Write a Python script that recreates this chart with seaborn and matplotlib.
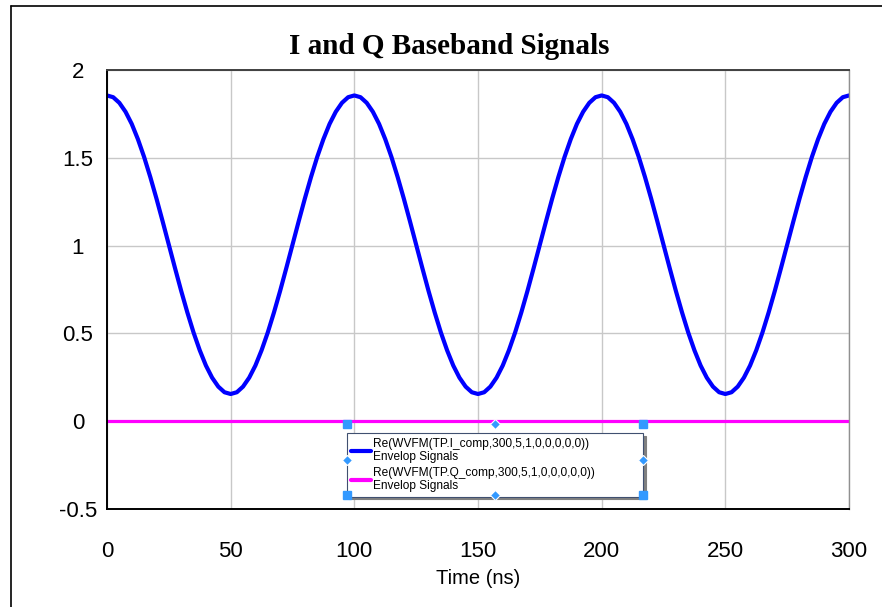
import numpy as np
import pandas as pd
import matplotlib
matplotlib.use("Agg")
import matplotlib.pyplot as plt
from matplotlib.lines import Line2D
import seaborn as sns

# time axis (ns), 0..300 ns
time_ns = [0, 2.5, 5, 7.5, 10, 12.5, 15, 17.5, 20, 22.5, 25, 27.5, 30, 32.5, 35, 37.5, 40, 42.5, 45, 47.5,
           50, 52.5, 55, 57.5, 60, 62.5, 65, 67.5, 70, 72.5, 75, 77.5, 80, 82.5, 85, 87.5, 90, 92.5, 95, 97.5,
           100, 102.5, 105, 107.5, 110, 112.5, 115, 117.5, 120, 122.5, 125, 127.5, 130, 132.5, 135, 137.5, 140, 142.5, 145, 147.5,
           150, 152.5, 155, 157.5, 160, 162.5, 165, 167.5, 170, 172.5, 175, 177.5, 180, 182.5, 185, 187.5, 190, 192.5, 195, 197.5,
           200, 202.5, 205, 207.5, 210, 212.5, 215, 217.5, 220, 222.5, 225, 227.5, 230, 232.5, 235, 237.5, 240, 242.5, 245, 247.5,
           250, 252.5, 255, 257.5, 260, 262.5, 265, 267.5, 270, 272.5, 275, 277.5, 280, 282.5, 285, 287.5, 290, 292.5, 295, 297.5,
           300]
# I channel
i_values = [1.855, 1.845, 1.813, 1.762, 1.693, 1.606, 1.505, 1.391, 1.268, 1.138,
            1.005, 0.872, 0.742, 0.619, 0.505, 0.404, 0.317, 0.248, 0.197, 0.165,
            0.155, 0.165, 0.197, 0.248, 0.317, 0.404, 0.505, 0.619, 0.742, 0.872,
            1.005, 1.138, 1.268, 1.391, 1.505, 1.606, 1.693, 1.762, 1.813, 1.845,
            1.855, 1.845, 1.813, 1.762, 1.693, 1.606, 1.505, 1.391, 1.268, 1.138,
            1.005, 0.872, 0.742, 0.619, 0.505, 0.404, 0.317, 0.248, 0.197, 0.165,
            0.155, 0.165, 0.197, 0.248, 0.317, 0.404, 0.505, 0.619, 0.742, 0.872,
            1.005, 1.138, 1.268, 1.391, 1.505, 1.606, 1.693, 1.762, 1.813, 1.845,
            1.855, 1.845, 1.813, 1.762, 1.693, 1.606, 1.505, 1.391, 1.268, 1.138,
            1.005, 0.872, 0.742, 0.619, 0.505, 0.404, 0.317, 0.248, 0.197, 0.165,
            0.155, 0.165, 0.197, 0.248, 0.317, 0.404, 0.505, 0.619, 0.742, 0.872,
            1.005, 1.138, 1.268, 1.391, 1.505, 1.606, 1.693, 1.762, 1.813, 1.845,
            1.855]
# Q channel is flat at zero
q_values = [0.0] * len(time_ns)

i_label = "Re(WVFM(TP.I_comp,300,5,1,0,0,0,0,0))\nEnvelop Signals"
q_label = "Re(WVFM(TP.Q_comp,300,5,1,0,0,0,0,0))\nEnvelop Signals"
x_ticks = [0, 50, 100, 150, 200, 250, 300]
y_ticks = [-0.5, 0, 0.5, 1, 1.5, 2]

df = pd.DataFrame({
    "t": time_ns + time_ns,
    "v": i_values + q_values,
    "sig": [i_label] * len(time_ns) + [q_label] * len(time_ns),
})

sns.set_style("white")
plt.rcParams['font.family'] = ['Liberation Sans', 'DejaVu Sans']
plt.rcParams['text.color'] = 'black'
plt.rcParams['xtick.color'] = 'black'
plt.rcParams['ytick.color'] = 'black'
plt.rcParams['axes.labelcolor'] = 'black'

fig = plt.figure(figsize=(8.82, 6.07), dpi=100)
ax = fig.add_axes([0.1213, 0.1614, 0.8413, 0.7233])

sns.lineplot(data=df, x="t", y="v", hue="sig", palette=["#0000ff", "#ff00ff"],
             ax=ax, legend=False, sort=False)
ax.lines[0].set_linewidth(3.0)
ax.lines[1].set_linewidth(2.3)
for ln in ax.lines:
    ln.set_solid_joinstyle("round")

ax.set_xlim(0, 300)
ax.set_ylim(-0.5, 2)
ax.set_xticks(x_ticks)
ax.set_yticks(y_ticks)
ax.set_yticklabels(["%g" % v for v in y_ticks])
ax.grid(True, color="#c8c8c8", linewidth=1.0)
ax.tick_params(length=0, labelsize=16)
ax.tick_params(axis="x", pad=23)
ax.tick_params(axis="y", pad=21)
for lab in ax.get_yticklabels():
    lab.set_horizontalalignment("center")

for side in ["left", "bottom"]:
    ax.spines[side].set_color("black")
    ax.spines[side].set_linewidth(1.4)
ax.spines["top"].set_color("#404040")
ax.spines["top"].set_linewidth(1.4)
ax.spines["right"].set_color("#909090")
ax.spines["right"].set_linewidth(1.0)

ax.set_xlabel("Time (ns)", fontsize=14.5, labelpad=5)
ax.set_ylabel("")

fig.text(0.509, 0.924, "I and Q Baseband Signals", ha="center", va="center",
         fontsize=21, fontweight="bold", family=["Liberation Serif", "DejaVu Serif"])

handles = [Line2D([], [], color="#0000ff", lw=3), Line2D([], [], color="#ff00ff", lw=3)]
leg = ax.legend(handles, [i_label, q_label], loc="upper left",
                bbox_to_anchor=(0.323, 0.039, 0.399, 0.134), mode="expand",
                prop={"family": ["Liberation Sans Narrow", "Liberation Sans"], "size": 8.6},
                handlelength=1.6, handletextpad=0.2, labelspacing=0.35,
                borderpad=0.4, borderaxespad=0, fancybox=False,
                shadow={"color": "#808080", "alpha": 1},
                framealpha=1, edgecolor="#405070")
leg.get_frame().set_linewidth(0.8)
for t in leg.get_texts():
    t.set_linespacing(1.1)

# figure frame (left and top edges)
fig.add_artist(Line2D([0.0125, 0.0125], [0, 0.99], color="black", lw=1.2, transform=fig.transFigure))
fig.add_artist(Line2D([0.0125, 1.0], [0.99, 0.99], color="black", lw=1.2, transform=fig.transFigure))

# selection handles around the legend
fig.canvas.draw()
bb = leg.get_frame().get_window_extent().transformed(fig.transFigure.inverted())
x0, x1 = bb.x0, bb.x1
y0, y1 = bb.y0 + 0.002, bb.y1 + 0.015
xm, ym = (x0 + x1) / 2, (y0 + y1) / 2
for px, py in [(x0, y0), (x1, y0), (x0, y1), (x1, y1)]:
    fig.add_artist(Line2D([px], [py], marker="s", ms=6, color="#3399ff", transform=fig.transFigure))
for px, py in [(xm, y0), (xm, y1), (x0, ym), (x1, ym)]:
    fig.add_artist(Line2D([px], [py], marker="D", ms=5, color="#3399ff", mec="white", mew=0.8,
                          transform=fig.transFigure))

fig.savefig("out.png", dpi=100)
